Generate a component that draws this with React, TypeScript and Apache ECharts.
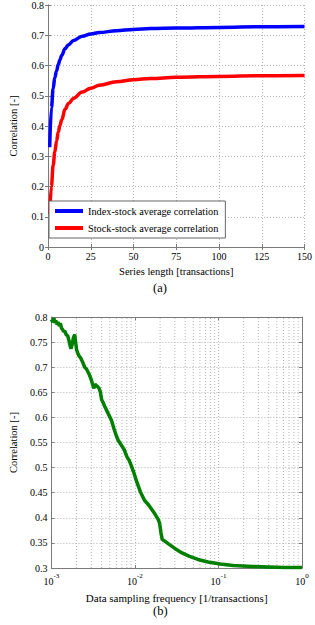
import React, { useEffect, useRef } from "react";
import * as echarts from "echarts";

// ---- Panel (a) data ----
const seriesLengthTicks = [0, 25, 50, 75, 100, 125, 150];
const indexStockName = "Index-stock average correlation";
const stockStockName = "Stock-stock average correlation";
const indexStock: [number, number][] = [
  [1, 0.33], [2, 0.46], [3, 0.523], [4, 0.56], [5, 0.582], [6, 0.603], [7, 0.619],
  [8, 0.633], [10, 0.656], [12, 0.669], [15, 0.683], [20, 0.697], [25, 0.704],
  [30, 0.709], [40, 0.715], [50, 0.719], [60, 0.722], [75, 0.724], [100, 0.726],
  [125, 0.728], [150, 0.729],
];
const stockStock: [number, number][] = [
  [1, 0.11], [2, 0.2], [3, 0.27], [4, 0.315], [5, 0.35], [6, 0.38], [7, 0.402],
  [8, 0.42], [10, 0.456], [12, 0.474], [15, 0.492], [20, 0.512], [25, 0.525],
  [30, 0.535], [40, 0.546], [50, 0.553], [60, 0.557], [75, 0.561], [100, 0.564],
  [125, 0.566], [150, 0.567],
];

// ---- Panel (b) data ----
const samplingCorrelation: [number, number][] = [
  [0.001, 0.795], [0.00104, 0.79], [0.00107, 0.798], [0.0011, 0.788], [0.00113, 0.793],
  [0.00117, 0.785], [0.0012, 0.79], [0.00124, 0.782], [0.00128, 0.788], [0.00132, 0.778],
  [0.00136, 0.775], [0.0014, 0.771], [0.00145, 0.772], [0.0015, 0.765], [0.00157, 0.762],
  [0.00163, 0.752], [0.00168, 0.742], [0.00172, 0.737], [0.00177, 0.745], [0.00183, 0.758],
  [0.0019, 0.765], [0.00195, 0.75], [0.002, 0.735], [0.00207, 0.728], [0.00215, 0.722],
  [0.00225, 0.718], [0.00237, 0.71], [0.0025, 0.7], [0.00262, 0.697], [0.00283, 0.686],
  [0.003, 0.675], [0.00315, 0.663], [0.00323, 0.658], [0.00333, 0.666], [0.00343, 0.664],
  [0.00355, 0.662], [0.00372, 0.658], [0.00386, 0.65], [0.004, 0.635], [0.0042, 0.628],
  [0.0044, 0.62], [0.0048, 0.607], [0.00525, 0.594], [0.0056, 0.578], [0.006, 0.563],
  [0.00627, 0.555], [0.0068, 0.546], [0.00748, 0.535], [0.008, 0.522], [0.0085, 0.515],
  [0.009, 0.505], [0.0097, 0.49], [0.0105, 0.472], [0.0116, 0.452], [0.013, 0.435],
  [0.0145, 0.426], [0.016, 0.416], [0.0173, 0.408], [0.0188, 0.398], [0.0197, 0.39],
  [0.0205, 0.37], [0.0212, 0.357], [0.0225, 0.354], [0.0257, 0.347], [0.03, 0.339],
  [0.0366, 0.33], [0.045, 0.323], [0.0568, 0.317], [0.075, 0.312], [0.105, 0.308],
  [0.15, 0.305], [0.255, 0.303], [0.4, 0.302], [0.615, 0.301], [1, 0.301],
];
const minorLogGrid = [
  0.002, 0.003, 0.004, 0.005, 0.006, 0.007, 0.008, 0.009,
  0.02, 0.03, 0.04, 0.05, 0.06, 0.07, 0.08, 0.09,
  0.2, 0.3, 0.4, 0.5, 0.6, 0.7, 0.8, 0.9,
];
const bottomYRange = [0.3, 0.8];

const FONT = "Liberation Serif";
const AXIS_GRAY = "#7a7a7a";
const GRID_GRAY = "#b4b4b4";

export default function App() {
  const ref = useRef<HTMLDivElement>(null);
  useEffect(() => {
    if (!ref.current) return;
    const chart = echarts.init(ref.current, undefined, { renderer: "svg" });
    const labelStyle = { color: "#000", fontFamily: FONT, fontSize: 10 };
    const nameStyle = { color: "#000", fontFamily: FONT, fontSize: 10.5 };
    const dotted = { color: GRID_GRAY, type: [1, 2] as any, width: 1 };
    const splitLine = { show: true, lineStyle: dotted };
    const axisLine = { show: true, lineStyle: { color: AXIS_GRAY, width: 1 } };
    const tick = { show: true, inside: true, length: 3, lineStyle: { color: AXIS_GRAY } };
    const ghost = {
      axisLabel: { show: false },
      splitLine: { show: false },
      axisLine,
      axisTick: tick,
    };
    const minorSeries = minorLogGrid.map((v) => ({
      type: "line",
      xAxisIndex: 2,
      yAxisIndex: 2,
      data: [[v, bottomYRange[0]], [v, bottomYRange[1]]],
      showSymbol: false,
      silent: true,
      lineStyle: dotted,
      z: 1,
    }));
    const option: any = {
      animation: false,
      backgroundColor: "#fff",
      textStyle: { fontFamily: FONT },
      grid: [
        { left: 41, width: 267, top: 4, height: 243, containLabel: false },
        { left: 41, width: 261, top: 317, height: 251, containLabel: false },
      ],
      legend: {
        data: [indexStockName, stockStockName],
        orient: "vertical",
        left: 49,
        top: 201,
        icon: "rect",
        itemWidth: 28,
        itemHeight: 4,
        itemGap: 7,
        padding: [5, 7, 5, 6],
        backgroundColor: "#fff",
        borderColor: "#666",
        borderWidth: 1,
        textStyle: { color: "#000", fontFamily: FONT, fontSize: 10.3 },
      },
      xAxis: [
        {
          type: "value", gridIndex: 0, min: 0, max: 150, interval: 25,
          name: "Series length [transactions]", nameLocation: "middle", nameGap: 19,
          nameTextStyle: nameStyle,
          axisLabel: { ...labelStyle, margin: 4 },
          axisLine, axisTick: tick, splitLine,
        },
        { type: "value", gridIndex: 0, min: 0, max: 150, interval: 25, position: "top", ...ghost },
        {
          type: "log", logBase: 10, gridIndex: 1, min: 0.001, max: 1,
          name: "Data sampling frequency [1/transactions]", nameLocation: "middle", nameGap: 24,
          nameTextStyle: { ...nameStyle, fontSize: 11 },
          axisLabel: {
            margin: 4,
            formatter: (v: number) => `{b|10}{s|${Math.round(Math.log10(v))}}`,
            rich: {
              b: { color: "#000", fontFamily: FONT, fontSize: 10, lineHeight: 14, verticalAlign: "bottom" },
              s: { color: "#000", fontFamily: FONT, fontSize: 7, lineHeight: 14, verticalAlign: "top" },
            },
          },
          axisLine, axisTick: tick, splitLine,
        },
        { type: "log", logBase: 10, gridIndex: 1, min: 0.001, max: 1, position: "top", ...ghost },
      ],
      yAxis: [
        {
          type: "value", gridIndex: 0, min: 0, max: 0.8, interval: 0.1,
          name: "Correlation [-]", nameLocation: "middle", nameGap: 29,
          nameTextStyle: nameStyle,
          axisLabel: { ...labelStyle, margin: 4 },
          axisLine, axisTick: tick, splitLine,
        },
        { type: "value", gridIndex: 0, min: 0, max: 0.8, interval: 0.1, position: "right", ...ghost },
        {
          type: "value", gridIndex: 1, min: bottomYRange[0], max: bottomYRange[1], interval: 0.05,
          name: "Correlation [-]", nameLocation: "middle", nameGap: 29,
          nameTextStyle: nameStyle,
          axisLabel: { ...labelStyle, margin: 4 },
          axisLine, axisTick: tick, splitLine,
        },
        { type: "value", gridIndex: 1, min: bottomYRange[0], max: bottomYRange[1], interval: 0.05, position: "right", ...ghost },
      ],
      series: [
        {
          name: indexStockName, type: "line", xAxisIndex: 0, yAxisIndex: 0,
          data: indexStock, showSymbol: false, smooth: 0.4, smoothMonotone: "x",
          lineStyle: { color: "#0000ff", width: 3.5 }, itemStyle: { color: "#0000ff" }, z: 3,
        },
        {
          name: stockStockName, type: "line", xAxisIndex: 0, yAxisIndex: 0,
          data: stockStock, showSymbol: false, smooth: 0.4, smoothMonotone: "x",
          lineStyle: { color: "#ff0000", width: 3.5 }, itemStyle: { color: "#ff0000" }, z: 3,
        },
        ...minorSeries,
        {
          name: "Sampling", type: "line", xAxisIndex: 2, yAxisIndex: 2,
          data: samplingCorrelation, showSymbol: false,
          lineStyle: { color: "#007f00", width: 3.5 }, itemStyle: { color: "#007f00" }, z: 3,
        },
      ],
      graphic: [
        { type: "text", left: 153, top: 281, style: { text: "(a)", fontFamily: FONT, fontSize: 12.5, fill: "#000" } },
        { type: "text", left: 153, top: 604, style: { text: "(b)", fontFamily: FONT, fontSize: 12.5, fill: "#000" } },
      ],
    };
    chart.setOption(option);
    return () => chart.dispose();
  }, []);
  return (
    <div
      ref={ref}
      style={{ position: "fixed", left: 0, top: 0, width: 315, height: 625, background: "#fff" }}
    />
  );
}
